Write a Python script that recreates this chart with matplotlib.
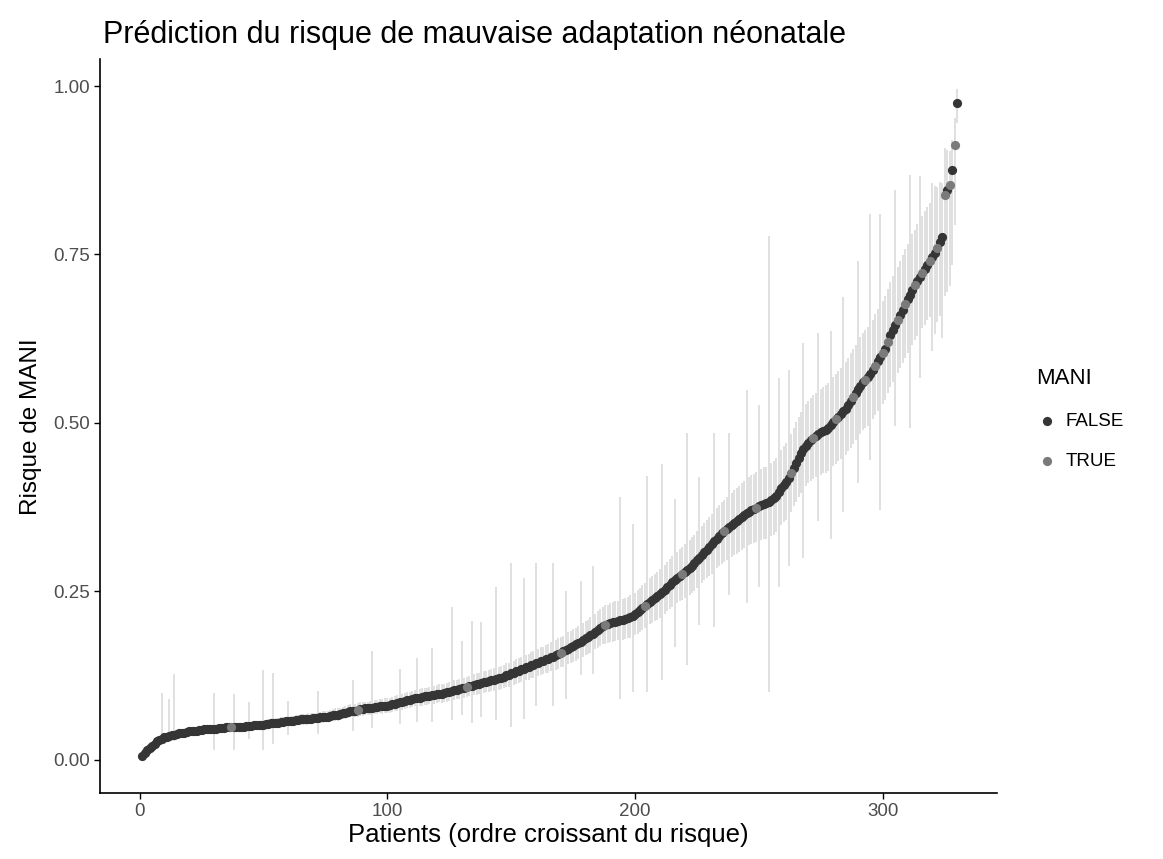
import matplotlib
matplotlib.use("Agg")
import matplotlib.pyplot as plt
import numpy as np

plt.rcParams['font.family'] = ['Liberation Sans', 'DejaVu Sans']

# Predicted risk per patient, sorted ascending (patients 1..330)
risk = [
    0.005, 0.010, 0.014, 0.018, 0.021, 0.024, 0.027, 0.029, 0.031, 0.033,
    0.034, 0.035, 0.036, 0.037, 0.038, 0.039, 0.040, 0.040, 0.041, 0.042,
    0.042, 0.043, 0.043, 0.044, 0.044, 0.045, 0.045, 0.045, 0.046, 0.046,
    0.046, 0.047, 0.047, 0.047, 0.048, 0.048, 0.048, 0.048, 0.049, 0.049,
    0.049, 0.049, 0.050, 0.050, 0.050, 0.051, 0.051, 0.051, 0.052, 0.052,
    0.053, 0.053, 0.054, 0.054, 0.055, 0.055, 0.056, 0.056, 0.057, 0.057,
    0.058, 0.058, 0.059, 0.059, 0.060, 0.060, 0.060, 0.061, 0.061, 0.062,
    0.062, 0.062, 0.063, 0.063, 0.064, 0.064, 0.065, 0.066, 0.067, 0.067,
    0.068, 0.069, 0.070, 0.071, 0.072, 0.073, 0.073, 0.074, 0.075, 0.075,
    0.076, 0.076, 0.077, 0.077, 0.078, 0.078, 0.079, 0.079, 0.080, 0.080,
    0.081, 0.082, 0.083, 0.084, 0.085, 0.086, 0.087, 0.088, 0.089, 0.090,
    0.091, 0.091, 0.092, 0.093, 0.094, 0.094, 0.095, 0.096, 0.096, 0.097,
    0.098, 0.098, 0.099, 0.100, 0.101, 0.102, 0.103, 0.104, 0.105, 0.106,
    0.107, 0.108, 0.109, 0.110, 0.111, 0.112, 0.113, 0.114, 0.115, 0.116,
    0.117, 0.118, 0.119, 0.120, 0.121, 0.122, 0.123, 0.125, 0.126, 0.128,
    0.129, 0.131, 0.132, 0.134, 0.135, 0.137, 0.138, 0.140, 0.141, 0.143,
    0.144, 0.146, 0.147, 0.149, 0.150, 0.152, 0.153, 0.155, 0.157, 0.159,
    0.161, 0.163, 0.165, 0.167, 0.169, 0.171, 0.173, 0.175, 0.177, 0.180,
    0.182, 0.185, 0.187, 0.190, 0.193, 0.196, 0.198, 0.200, 0.201, 0.203,
    0.204, 0.205, 0.206, 0.207, 0.208, 0.209, 0.210, 0.212, 0.214, 0.216,
    0.219, 0.222, 0.225, 0.228, 0.231, 0.234, 0.237, 0.240, 0.243, 0.246,
    0.249, 0.252, 0.256, 0.260, 0.264, 0.267, 0.270, 0.273, 0.276, 0.279,
    0.282, 0.285, 0.288, 0.292, 0.296, 0.300, 0.304, 0.308, 0.312, 0.316,
    0.320, 0.324, 0.328, 0.332, 0.336, 0.339, 0.342, 0.345, 0.348, 0.351,
    0.354, 0.357, 0.360, 0.363, 0.366, 0.368, 0.370, 0.372, 0.374, 0.376,
    0.378, 0.380, 0.381, 0.383, 0.385, 0.388, 0.392, 0.397, 0.403, 0.408,
    0.412, 0.418, 0.425, 0.433, 0.441, 0.448, 0.455, 0.461, 0.466, 0.470,
    0.474, 0.478, 0.481, 0.484, 0.486, 0.488, 0.490, 0.493, 0.497, 0.501,
    0.505, 0.509, 0.513, 0.517, 0.521, 0.526, 0.532, 0.538, 0.544, 0.550,
    0.555, 0.560, 0.564, 0.568, 0.572, 0.578, 0.585, 0.592, 0.598, 0.603,
    0.610, 0.620, 0.630, 0.638, 0.645, 0.652, 0.660, 0.668, 0.676, 0.684,
    0.690, 0.697, 0.704, 0.711, 0.717, 0.723, 0.729, 0.735, 0.741, 0.746,
    0.752, 0.760, 0.768, 0.776, 0.838, 0.845, 0.853, 0.875, 0.913, 0.975,
]

# Upper half-width of each patient's interval
hi_hw = [
    0.004, 0.004, 0.004, 0.005, 0.005, 0.005, 0.005, 0.005, 0.068, 0.005,
    0.005, 0.055, 0.005, 0.090, 0.005, 0.005, 0.005, 0.005, 0.005, 0.005,
    0.005, 0.005, 0.005, 0.005, 0.005, 0.005, 0.005, 0.005, 0.005, 0.053,
    0.005, 0.005, 0.006, 0.005, 0.006, 0.006, 0.006, 0.050, 0.006, 0.006,
    0.006, 0.006, 0.006, 0.035, 0.006, 0.006, 0.006, 0.006, 0.006, 0.081,
    0.006, 0.007, 0.007, 0.075, 0.007, 0.007, 0.007, 0.007, 0.007, 0.030,
    0.007, 0.007, 0.008, 0.008, 0.008, 0.008, 0.008, 0.008, 0.008, 0.008,
    0.008, 0.040, 0.008, 0.009, 0.009, 0.009, 0.009, 0.009, 0.009, 0.009,
    0.009, 0.009, 0.010, 0.010, 0.010, 0.045, 0.010, 0.010, 0.010, 0.010,
    0.010, 0.010, 0.010, 0.085, 0.011, 0.011, 0.011, 0.011, 0.011, 0.011,
    0.011, 0.011, 0.012, 0.012, 0.050, 0.012, 0.012, 0.012, 0.012, 0.012,
    0.013, 0.060, 0.013, 0.013, 0.013, 0.013, 0.013, 0.070, 0.013, 0.014,
    0.014, 0.014, 0.014, 0.014, 0.014, 0.125, 0.015, 0.015, 0.015, 0.070,
    0.015, 0.015, 0.015, 0.096, 0.016, 0.016, 0.016, 0.090, 0.016, 0.016,
    0.016, 0.017, 0.017, 0.137, 0.017, 0.017, 0.017, 0.018, 0.018, 0.164,
    0.018, 0.018, 0.019, 0.019, 0.135, 0.019, 0.019, 0.020, 0.020, 0.149,
    0.020, 0.021, 0.021, 0.021, 0.022, 0.022, 0.139, 0.022, 0.023, 0.023,
    0.023, 0.087, 0.024, 0.024, 0.025, 0.025, 0.025, 0.090, 0.026, 0.026,
    0.026, 0.027, 0.100, 0.027, 0.028, 0.028, 0.028, 0.029, 0.029, 0.029,
    0.030, 0.030, 0.030, 0.183, 0.031, 0.031, 0.031, 0.032, 0.136, 0.032,
    0.033, 0.033, 0.034, 0.034, 0.190, 0.035, 0.035, 0.036, 0.036, 0.037,
    0.190, 0.037, 0.038, 0.038, 0.039, 0.120, 0.039, 0.040, 0.040, 0.041,
    0.203, 0.041, 0.042, 0.042, 0.043, 0.120, 0.043, 0.044, 0.044, 0.045,
    0.045, 0.161, 0.046, 0.046, 0.047, 0.047, 0.048, 0.140, 0.048, 0.049,
    0.049, 0.050, 0.050, 0.051, 0.183, 0.051, 0.052, 0.052, 0.053, 0.150,
    0.053, 0.054, 0.054, 0.394, 0.055, 0.055, 0.056, 0.170, 0.057, 0.057,
    0.058, 0.160, 0.059, 0.059, 0.060, 0.060, 0.061, 0.157, 0.062, 0.062,
    0.063, 0.063, 0.064, 0.150, 0.065, 0.065, 0.066, 0.066, 0.140, 0.067,
    0.068, 0.068, 0.069, 0.170, 0.070, 0.070, 0.071, 0.071, 0.072, 0.190,
    0.073, 0.073, 0.074, 0.075, 0.238, 0.075, 0.076, 0.077, 0.212, 0.078,
    0.078, 0.079, 0.079, 0.080, 0.200, 0.080, 0.081, 0.081, 0.082, 0.082,
    0.178, 0.083, 0.083, 0.084, 0.150, 0.084, 0.085, 0.085, 0.085, 0.110,
    0.100, 0.090, 0.090, 0.080, 0.070, 0.060, 0.050, 0.045, 0.040, 0.020,
]

# Lower half-width of each patient's interval
lo_hw = [
    0.004, 0.004, 0.004, 0.004, 0.005, 0.005, 0.005, 0.005, 0.008, 0.005,
    0.005, 0.008, 0.005, 0.010, 0.005, 0.005, 0.005, 0.005, 0.005, 0.005,
    0.005, 0.005, 0.005, 0.005, 0.005, 0.005, 0.005, 0.005, 0.005, 0.031,
    0.005, 0.005, 0.005, 0.005, 0.005, 0.006, 0.006, 0.033, 0.006, 0.006,
    0.006, 0.006, 0.006, 0.020, 0.006, 0.006, 0.006, 0.006, 0.006, 0.037,
    0.006, 0.006, 0.007, 0.030, 0.007, 0.007, 0.007, 0.007, 0.007, 0.020,
    0.007, 0.007, 0.007, 0.007, 0.007, 0.008, 0.008, 0.008, 0.008, 0.008,
    0.008, 0.024, 0.008, 0.008, 0.008, 0.008, 0.008, 0.009, 0.009, 0.009,
    0.009, 0.009, 0.009, 0.009, 0.009, 0.030, 0.010, 0.010, 0.010, 0.010,
    0.010, 0.010, 0.010, 0.030, 0.010, 0.010, 0.010, 0.011, 0.011, 0.011,
    0.011, 0.011, 0.011, 0.011, 0.032, 0.012, 0.012, 0.012, 0.012, 0.012,
    0.012, 0.035, 0.012, 0.013, 0.013, 0.013, 0.013, 0.040, 0.013, 0.013,
    0.013, 0.014, 0.014, 0.014, 0.014, 0.043, 0.014, 0.014, 0.015, 0.040,
    0.015, 0.015, 0.015, 0.055, 0.015, 0.016, 0.016, 0.050, 0.016, 0.016,
    0.016, 0.016, 0.017, 0.061, 0.017, 0.017, 0.017, 0.017, 0.018, 0.079,
    0.018, 0.018, 0.018, 0.019, 0.075, 0.019, 0.019, 0.019, 0.020, 0.063,
    0.020, 0.020, 0.020, 0.021, 0.021, 0.021, 0.073, 0.022, 0.022, 0.022,
    0.023, 0.073, 0.023, 0.023, 0.024, 0.024, 0.024, 0.050, 0.025, 0.025,
    0.025, 0.026, 0.060, 0.026, 0.027, 0.027, 0.027, 0.028, 0.028, 0.028,
    0.029, 0.029, 0.029, 0.117, 0.030, 0.030, 0.030, 0.031, 0.114, 0.031,
    0.032, 0.032, 0.032, 0.033, 0.130, 0.033, 0.034, 0.034, 0.035, 0.035,
    0.130, 0.036, 0.036, 0.037, 0.037, 0.100, 0.038, 0.038, 0.039, 0.039,
    0.142, 0.040, 0.040, 0.041, 0.041, 0.100, 0.042, 0.042, 0.043, 0.043,
    0.044, 0.127, 0.044, 0.045, 0.045, 0.046, 0.046, 0.100, 0.047, 0.047,
    0.048, 0.048, 0.049, 0.049, 0.133, 0.050, 0.050, 0.051, 0.051, 0.120,
    0.052, 0.052, 0.053, 0.283, 0.053, 0.054, 0.054, 0.140, 0.055, 0.055,
    0.056, 0.130, 0.057, 0.057, 0.058, 0.058, 0.059, 0.161, 0.060, 0.060,
    0.061, 0.061, 0.062, 0.130, 0.063, 0.063, 0.064, 0.064, 0.170, 0.065,
    0.066, 0.066, 0.067, 0.150, 0.068, 0.068, 0.069, 0.069, 0.070, 0.140,
    0.071, 0.071, 0.072, 0.072, 0.127, 0.073, 0.074, 0.074, 0.228, 0.075,
    0.076, 0.076, 0.077, 0.077, 0.150, 0.078, 0.079, 0.079, 0.080, 0.080,
    0.198, 0.081, 0.081, 0.082, 0.150, 0.082, 0.083, 0.083, 0.084, 0.140,
    0.120, 0.110, 0.110, 0.150, 0.150, 0.150, 0.150, 0.140, 0.120, 0.030,
]

# Patients (1-based rank) observed with MANI == TRUE
mani_true = [37, 88, 132, 170, 188, 204, 219, 236, 249, 263, 272, 281, 288,
             293, 297, 300, 302, 306, 309, 313, 316, 319, 322, 325, 327, 329]

categories = ["FALSE", "TRUE"]
colors = {"FALSE": "#353535", "TRUE": "#7a7a7a"}

n = len(risk)
x = np.arange(1, n + 1)
r = np.array(risk)
lower = r - np.array(lo_hw)
upper = r + np.array(hi_hw)
is_true = np.isin(x, mani_true)

fig = plt.figure(figsize=(11.63, 8.59), dpi=100)
ax = fig.add_axes([0.086, 0.0768, 0.771, 0.854])

ax.vlines(x, lower, upper, color="#e0e0e0", lw=1.4, zorder=1)
ax.scatter(x[~is_true], r[~is_true], s=44, color=colors["FALSE"], zorder=3,
           linewidths=0, label="FALSE")
ax.scatter(x[is_true], r[is_true], s=44, color=colors["TRUE"], zorder=3,
           linewidths=0, label="TRUE")

ax.set_xlim(-16, 346)
ax.set_ylim(-0.0495, 1.0395)
ax.set_xticks([0, 100, 200, 300])
ax.set_yticks([0, 0.25, 0.5, 0.75, 1.0])
ax.set_yticklabels(["0.00", "0.25", "0.50", "0.75", "1.00"])
for s in ["top", "right"]:
    ax.spines[s].set_visible(False)
for s in ["left", "bottom"]:
    ax.spines[s].set_linewidth(1.2)
ax.tick_params(axis="both", direction="out", length=4, width=1.0,
               labelsize=13.5, labelcolor="#4d4d4d", pad=3)

ax.set_xlabel("Patients (ordre croissant du risque)", fontsize=18.5, labelpad=2)
ax.set_ylabel("Risque de MANI", fontsize=17.5, labelpad=8)
ax.set_title("Prédiction du risque de mauvaise adaptation néonatale",
             fontsize=22, loc="left", x=0.003, pad=12)

leg = fig.legend(handles=ax.collections[1:], labels=categories, title="MANI",
                 loc="upper left", bbox_to_anchor=(0.876, 0.591),
                 frameon=False, fontsize=13.5, title_fontsize=16,
                 markerscale=1.0, handletextpad=0.4, labelspacing=1.25,
                 handlelength=1.2)
leg._legend_box.align = "left"

fig.savefig("out.png", dpi=100)
